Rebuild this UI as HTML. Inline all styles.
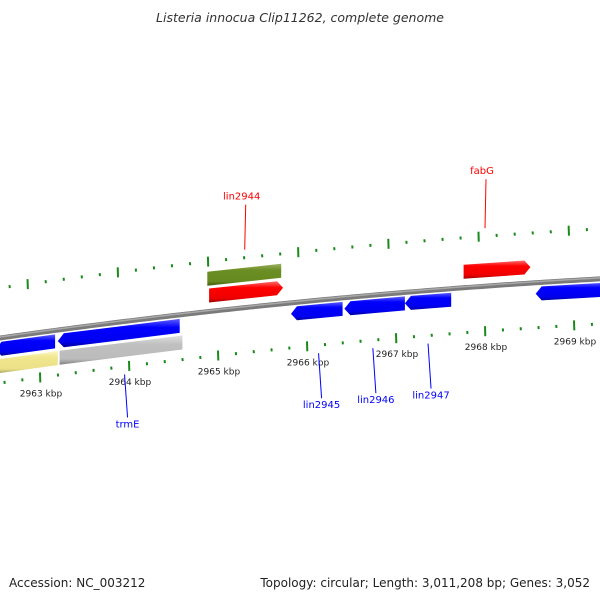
<!DOCTYPE html>
<html><head><meta charset="utf-8"><style>
body{margin:0;background:#fff;}
svg{display:block;font-family:"DejaVu Sans","Liberation Sans",sans-serif;}
</style></head><body>
<svg id="c" width="600" height="600" viewBox="0 0 600 600">
<defs>
<linearGradient id="gb" x1="0" y1="0" x2="0" y2="1"><stop offset="0" stop-color="#6060ff"/><stop offset="0.3" stop-color="#0000ff"/><stop offset="0.8" stop-color="#0000ee"/><stop offset="1" stop-color="#00009a"/></linearGradient>
<linearGradient id="gr" x1="0" y1="0" x2="0" y2="1"><stop offset="0" stop-color="#ff7070"/><stop offset="0.3" stop-color="#ff0000"/><stop offset="0.8" stop-color="#ee0000"/><stop offset="1" stop-color="#9a0000"/></linearGradient>
<linearGradient id="gg" x1="0" y1="0" x2="0" y2="1"><stop offset="0" stop-color="#9ab060"/><stop offset="0.3" stop-color="#6b8e23"/><stop offset="0.8" stop-color="#668a20"/><stop offset="1" stop-color="#3e5a10"/></linearGradient>
<linearGradient id="gy" x1="0" y1="0" x2="0" y2="1"><stop offset="0" stop-color="#fbf5c0"/><stop offset="0.3" stop-color="#f0e68c"/><stop offset="0.8" stop-color="#ebe088"/><stop offset="1" stop-color="#a09a60"/></linearGradient>
<linearGradient id="gs" x1="0" y1="0" x2="0" y2="1"><stop offset="0" stop-color="#e0e0e0"/><stop offset="0.3" stop-color="#c0c0c0"/><stop offset="0.8" stop-color="#bbbbbb"/><stop offset="1" stop-color="#808080"/></linearGradient>
</defs>
<text x="300" y="22" text-anchor="middle" font-size="12.5" font-style="italic" fill="#333">Listeria innocua Clip11262, complete genome</text>
<g id="g"></g>
<text x="9" y="587" font-size="12" fill="#222">Accession: NC_003212</text>
<text x="590" y="587" text-anchor="end" font-size="12" fill="#222">Topology: circular; Length: 3,011,208 bp; Genes: 3,052</text>
</svg>
<script>
var tickKbp=[2962,2963,2964,2965,2966,2967,2968,2969,2970];
var geneNames=["g1","g2","yellow1","grey1","lin2944-upper","lin2944","lin2945","lin2946","lin2947","fabG","g11"];
var geneStart=[2962.5,2963.2,2962.5,2963.22,2964.88,2964.9,2965.82,2966.42,2967.1,2967.76,2968.57];
var geneEnd=[2963.17,2964.57,2963.2,2964.6,2965.71,2965.73,2966.4,2967.1,2967.62,2968.51,2969.4];
var geneStrand=[-1,-1,0,0,0,1,-1,-1,-1,1,-1];
var geneLane=[1,1,2,2,-2,-1,1,1,1,-1,1];
var geneFill=["gb","gb","gy","gs","gg","gr","gb","gb","gb","gr","gb"];
var labelNames=["lin2944","fabG","trmE","lin2945","lin2946","lin2947"];
var labelKbp=[2965.3,2968.0,2963.95,2966.13,2966.74,2967.36];
var labelSide=[-1,-1,1,1,1,1];
var labelLen=[45,49,43,45,45,45];
function X(k){return 40+(k-2963)*89;}
function Y(x){return 338-0.1417*x+7.2e-5*x*x;}
var NS="http://www.w3.org/2000/svg",G=document.getElementById('g');
function mk(t,a){var e=document.createElementNS(NS,t);for(var k in a)e.setAttribute(k,a[k]);G.appendChild(e);return e;}
var d="";for(var x=-5;x<=605;x+=5){d+=(x<0?"M":"L")+x+","+(Y(x)).toFixed(2);}
var bb=mk('path',{d:d,stroke:'#7a7a7a','stroke-width':5,fill:'none'});

var bb2=mk('path',{d:d,stroke:'#a8a8a8','stroke-width':1.5,fill:'none',transform:'translate(0,-1)'});

for(var i=0;i<tickKbp.length-1;i++){for(var j=0;j<5;j++){
 var k=tickKbp[i]+j/5,big=j==0;
 var xl=X(k); if(xl<-5||xl>605)continue;
 var xu=xl-13+8*xl/600;
 var h=big?5:1.5;
 var t1=mk('line',{x1:xu,y1:Y(xu)-50-h,x2:xu+0.3,y2:Y(xu)-50+h,stroke:'#1a8a1a','stroke-width':2});
 
 var t2=mk('line',{x1:xl,y1:Y(xl)+45-h,x2:xl+0.3,y2:Y(xl)+45+h,stroke:'#1a8a1a','stroke-width':2});
 
 if(big){var tl=mk('text',{x:xl+1,y:Y(xl)+64,'text-anchor':'middle','font-size':9,fill:'#222'});tl.textContent=tickKbp[i]+" kbp";
 }
}}
var laneOff={"-2":-33,"-1":-16,"1":11,"2":28};
for(var i=0;i<geneStart.length;i++){
 var x1=X(geneStart[i]),x2=X(geneEnd[i]),o=laneOff[geneLane[i]],hh=7,ah=6;
 var p=function(x,dy){return x.toFixed(1)+","+(Y(x)+o+dy).toFixed(1);};
 var pts;
 if(geneStrand[i]==1)pts=[p(x1,-hh),p(x2-ah,-hh),p(x2,0),p(x2-ah,hh),p(x1,hh)];
 else if(geneStrand[i]==-1)pts=[p(x1,0),p(x1+ah,-hh),p(x2,-hh),p(x2,hh),p(x1+ah,hh)];
 else pts=[p(x1,-hh),p(x2,-hh),p(x2,hh),p(x1,hh)];
 var g=mk('polygon',{points:pts.join(" "),fill:'url(#'+geneFill[i]+')'});
 
}
for(var i=0;i<labelNames.length;i++){
 var x=X(labelKbp[i]),s=labelSide[i],col=s<0?'#ff0000':'#0000ff';
 var y0=s<0?Y(x)-58:Y(x)+53, y1=y0+s*labelLen[i];
 var ln=mk('line',{x1:x,y1:y0,x2:x+(s<0?1:3),y2:y1,stroke:col,'stroke-width':1});
 
 var tx=mk('text',{x:x+(s<0?-3:3),y:s<0?y1-5:y1+10,'text-anchor':'middle','font-size':10,fill:col});
 tx.textContent=labelNames[i];
 
}
</script>
</body></html>
